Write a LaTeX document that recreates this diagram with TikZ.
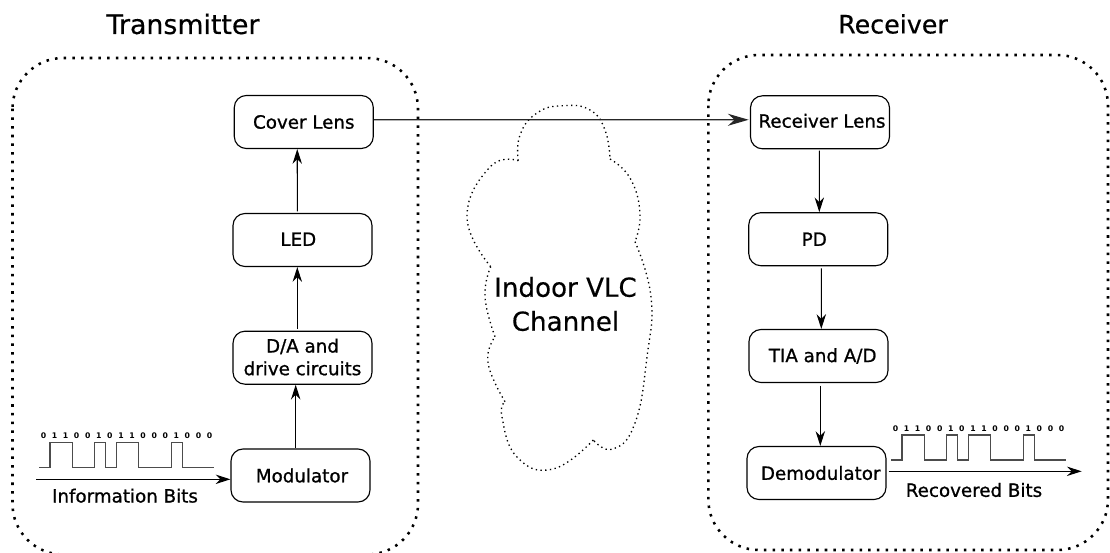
\documentclass[tikz,border=0pt]{standalone}
\usepackage{fontspec}
\setmainfont{DejaVu Sans}
\newfontfamily\heavyfont[FakeBold=1]{DejaVu Sans}
\newfontfamily\titlefont[FakeBold=0.4]{DejaVu Sans}
\usetikzlibrary{arrows.meta,calc}
\tikzset{
  x=0.75pt,y=-0.75pt,
  block/.style={draw,line width=0.85pt,rounded corners=9pt,inner sep=0pt,minimum width=104.25pt,minimum height=39.75pt,align=center,font=\heavyfont\fontsize{13.7}{17}\selectfont},
  conn/.style={line width=0.8pt,-{Stealth[length=11pt,width=7pt,inset=3.5pt]}},
  bigconn/.style={line width=0.9pt,draw=black!85,-{Stealth[length=15.5pt,width=9pt,inset=5pt]}},
  wave/.style={line width=0.9pt,draw=black!70},
  outer/.style={line width=1.9pt,dash pattern=on 1.9pt off 4.62pt,rounded corners=38pt},
  cloud/.style={line width=1pt,dash pattern=on 1pt off 2.55pt},
  title/.style={inner sep=0pt,font=\titlefont\fontsize{20.1}{24}\selectfont},
  lab/.style={inner sep=0pt,font=\heavyfont\fontsize{13.7}{16.5}\selectfont},
  bits/.style={inner sep=0pt,font=\fontsize{5.8}{8}\selectfont\bfseries},
}
\begin{document}
\begin{tikzpicture}
\useasboundingbox (0,0) rectangle (1110,553);
\begin{scope}
\clip (0,0) rectangle (1110,553);
% outer containers
\draw[outer] (12.5,58) rectangle (418,554.5);
\draw[outer] (708.3,55) rectangle (1108,550);
\end{scope}
% titles
\node[title] (ttx) at (183,24) {Transmitter};
\node[title,font=\titlefont\fontsize{19}{24}\selectfont] (trx) at (893,24) {Receiver};
% cloud
\draw[cloud] plot[smooth,tension=.8] coordinates {(518.3,160.7) (520,135) (537,113) (563,105.7) (590,110) (605,130) (610,159)};
\draw[cloud] plot[smooth,tension=.8] coordinates {(610,159) (630,178) (640,213) (635,241.7)};
\draw[cloud] plot[smooth,tension=.8] coordinates {(635,241.7) (651,297) (647,357) (635,423) (613,449) (593.3,440)};
\draw[cloud] plot[smooth,tension=.8] coordinates {(593.3,440) (553,469) (517,457) (502,417) (505,401.7)};
\draw[cloud] plot[smooth,tension=.8] coordinates {(505,401.7) (488,363) (495,336.7)};
\draw[cloud] plot[smooth,tension=.8] coordinates {(495,336.7) (485,297) (490.7,266.7)};
\draw[cloud] plot[smooth,tension=.8] coordinates {(490.7,266.7) (467,217) (490,167) (518.3,160.7)};
\node[title,align=center,font=\titlefont\fontsize{19.6}{25.5}\selectfont] (chan) at (565.5,304) {Indoor VLC\\Channel};
% transmitter blocks
\node[block] (cover) at (303.8,122) {Cover Lens};
\node[block] (led) at (302.5,240) {\hspace*{-6.3pt}\raisebox{1.2pt}{LED}};
\node[block] (da) at (302.5,357.7) {\raisebox{1.2pt}{D/A and}\\\raisebox{1.2pt}{drive circuits}};
\node[block] (mod) at (300.5,475.5) {\hspace*{2.2pt}\raisebox{-0.8pt}{Modulator}};
% receiver blocks
\node[block] (rl) at (820,122.3) {\hspace*{3pt}\raisebox{2.4pt}{Receiver Lens}};
\node[block] (pd) at (818.3,239.2) {\hspace*{-6pt}PD};
\node[block] (tia) at (818.5,356) {\hspace*{6.3pt}\raisebox{1.2pt}{TIA and A/D}};
\node[block] (dem) at (816.5,473) {\hspace*{6.3pt}Demodulator};
% arrows
\draw[conn] ([xshift=-3.9pt,yshift=1.2pt]led.north) -- ([xshift=-4.9pt]cover.south);
\draw[conn] ([xshift=-3.9pt,yshift=1.2pt]da.north) -- ([xshift=-3.9pt]led.south);
\draw[conn] ([xshift=-3.6pt]mod.north) -- ([xshift=-5.1pt]da.south);
\draw[conn] ([xshift=-0.5pt,yshift=-1pt]rl.south) -- ([xshift=0.75pt]pd.north);
\draw[conn] ([xshift=2.25pt,yshift=-1.6pt]pd.south) -- ([xshift=2.1pt]tia.north);
\draw[conn] ([xshift=1.35pt,yshift=-2pt]tia.south) -- ([xshift=2.85pt]dem.north);
\draw[bigconn] ([yshift=1.7pt]cover.east) -- ([yshift=1.9pt,xshift=-1pt]rl.west);
\coordinate (ibstart) at (36,479.3);
\draw[conn] (ibstart) -- (ibstart -| mod.west);
\coordinate (rbend) at (1081.7,471.3);
\draw[conn] ([xshift=1.5pt]dem.east |- rbend) -- (rbend);
% waveforms
\draw[wave] (39,467.7) -- (50,467.7) -- (50,442.7) -- (72.3,442.7) -- (72.3,467.7) -- (94.3,467.7) -- (94.3,442.7) -- (105.7,442.7) -- (105.7,467.7) -- (116.3,467.7) -- (116.3,442.7) -- (138.3,442.7) -- (138.3,467.7) -- (171.7,467.7) -- (171.7,442.7) -- (182.7,442.7) -- (182.7,467.7) -- (213.7,467.7);
\draw[wave] (891,460) -- (902,460) -- (902,435) -- (924.3,435) -- (924.3,460) -- (946.3,460) -- (946.3,435) -- (957.7,435) -- (957.7,460) -- (968.3,460) -- (968.3,435) -- (990.3,435) -- (990.3,460) -- (1023.7,460) -- (1023.7,435) -- (1034.7,435) -- (1034.7,460) -- (1065.7,460);
\node[bits] (bl) at (126.5,436) {\spaceskip=4.27pt 0 1 1 0 0 1 0 1 1 0 0 0 1 0 0 0};
\node[bits] (br) at (978.5,428.3) {\spaceskip=4.27pt 0 1 1 0 0 1 0 1 1 0 0 0 1 0 0 0};
% labels
\node[lab] (ib) at (125,495.7) {Information Bits};
\node[lab] (rb) at (974,490) {Recovered Bits};
\end{tikzpicture}
\end{document}
